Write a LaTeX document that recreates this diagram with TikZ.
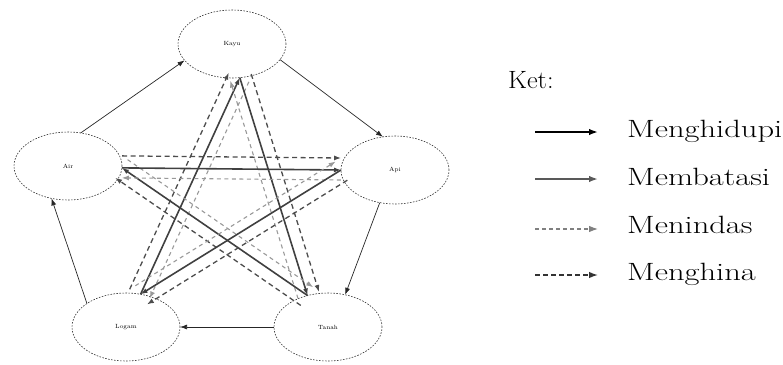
\documentclass[tikz,border=0pt]{standalone}
\usetikzlibrary{arrows.meta,calc,shapes.geometric}
\begin{document}
\begin{tikzpicture}[x=1pt,y=-1pt,
  elem/.style={ellipse,draw=black!80,line width=0.6pt,dash pattern=on 1.6pt off 1.4pt,minimum width=108pt,minimum height=68pt,inner sep=0pt,outer sep=0pt,font=\fontsize{6}{7}\selectfont},
  endtip/.style={-{Latex[length=7pt,width=5pt]}},
  bigtip/.style={-{Latex[length=9pt,width=6.5pt]}},
  gen/.style={endtip,line width=0.7pt,draw=black!85},
  memb/.style={endtip,line width=1.6pt,draw=black!75},
  dk/.style={endtip,line width=1.3pt,draw=black!70,dash pattern=on 5pt off 3.5pt},
  gr/.style={endtip,line width=1.1pt,draw=black!40,dash pattern=on 4pt off 3.5pt},
  lgtext/.style={anchor=base west,inner sep=0pt,font=\fontsize{25}{30}\selectfont},
  lghidup/.style={bigtip,line width=1.8pt,draw=black},
  lgbatas/.style={bigtip,line width=2pt,draw=black!65},
  lgtindas/.style={bigtip,line width=1.1pt,draw=black!50,dash pattern=on 3.5pt off 3.5pt},
  lghina/.style={bigtip,line width=1.4pt,draw=black!80,dash pattern=on 4.5pt off 3.5pt}
]
\useasboundingbox (0,0) rectangle (783,364);

% elements
\node[elem] (K) at (232,44) {Kayu};
\node[elem] (A) at (68,166) {Air};
\node[elem] (P) at (395,170) {Api};
\node[elem] (L) at (126,327) {Logam};
\node[elem] (T) at (328,327) {Tanah};

% generating cycle (outer)
\draw[gen] (A.69) -- (K.-161);
\draw[gen] (K.-18) -- (P.110);
\draw[gen] (P.-115) -- (T.62);
\draw[gen] (T.180) -- (L.0);
\draw[gen] (L.149) -- (A.-117);

% star: Logam -> Kayu
\draw[memb] (L.66) -- (K.-77);
\draw[dk] ($(L.66)!12pt!90:(K.-77)$) -- ($(K.-77)!12pt!-90:(L.66)$);
\draw[gr] ($(K.-77)!10pt!90:(L.66)$) -- ($(L.66)!10pt!-90:(K.-77)$);
% Kayu -> Tanah
\draw[memb] (K.-77) -- (T.123);
\draw[dk] ($(K.-77)!12pt!90:(T.123)$) -- ($(T.123)!12pt!-90:(K.-77)$);
\draw[gr] ($(T.123)!10pt!90:(K.-77)$) -- ($(K.-77)!10pt!-90:(T.123)$);
% Tanah -> Air
\draw[memb] (T.123) -- (A.-2);
\draw[dk] ($(T.123)!12pt!90:(A.-2)$) -- ($(A.-2)!12pt!-90:(T.123)$);
\draw[gr] ($(A.-2)!10pt!90:(T.123)$) -- ($(T.123)!10pt!-90:(A.-2)$);
% Air -> Api
\draw[memb] (A.-2) -- (P.180);
\draw[dk] ($(A.-2)!12pt!90:(P.180)$) -- ($(P.180)!12pt!-90:(A.-2)$);
\draw[gr] ($(P.180)!10pt!90:(A.-2)$) -- ($(A.-2)!10pt!-90:(P.180)$);
% Api -> Logam
\draw[memb] (P.180) -- (L.66);
\draw[dk] ($(P.180)!12pt!90:(L.66)$) -- ($(L.66)!12pt!-90:(P.180)$);
\draw[gr] ($(L.66)!10pt!90:(P.180)$) -- ($(P.180)!10pt!-90:(L.66)$);

% legend
\node[lgtext] (ket) at (508,88) {\scalebox{1.05}[1]{Ket:}};
\node[lgtext] (t1) at (627,137) {\scalebox{1.3}[1]{Menghidupi}};
\node[lgtext] (t2) at (627,185) {\scalebox{1.3}[1]{Membatasi}};
\node[lgtext] (t3) at (627,233) {\scalebox{1.3}[1]{Menindas}};
\node[lgtext] (t4) at (627,280) {\scalebox{1.3}[1]{Menghina}};
\coordinate (a1) at (535,132); \coordinate (b1) at (598,132);
\coordinate (a2) at (535,179); \coordinate (b2) at (598,179);
\coordinate (a3) at (535,229); \coordinate (b3) at (598,229);
\coordinate (a4) at (535,275); \coordinate (b4) at (598,275);
\draw[lghidup] (a1) -- (b1);
\draw[lgbatas] (a2) -- (b2);
\draw[lgtindas] (a3) -- (b3);
\draw[lghina] (a4) -- (b4);
\end{tikzpicture}
\end{document}
